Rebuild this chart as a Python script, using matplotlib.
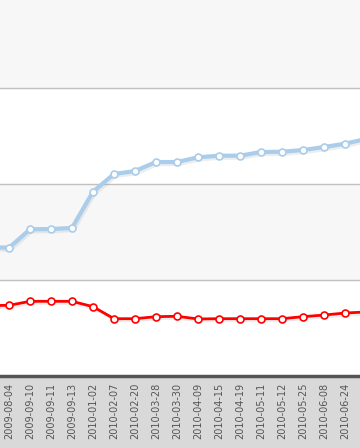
import matplotlib
matplotlib.use('Agg')
import matplotlib.pyplot as plt
import matplotlib.patheffects as pe
import numpy as np

# dates shown under the axis; the first and last points sit just outside the view
dates = ['', '2009-08-04', '2009-09-10', '2009-09-11', '2009-09-13', '2010-01-02',
         '2010-02-07', '2010-02-20', '2010-03-28', '2010-03-30', '2010-04-09',
         '2010-04-15', '2010-04-19', '2010-05-11', '2010-05-12', '2010-05-25',
         '2010-06-08', '2010-06-24', '']

blue_vals = [134.4, 133.6, 152.8, 153.1, 154.2, 192.0, 210.4, 213.5, 222.9, 222.9,
             227.8, 229.5, 229.5, 233.3, 233.6, 235.4, 238.5, 242.0, 246.9]
red_vals = [73.4, 73.6, 77.8, 77.8, 77.8, 72.2, 59.7, 59.7, 61.8, 62.2,
            59.4, 59.7, 59.7, 59.7, 59.7, 61.8, 63.5, 65.6, 66.7]

x = np.arange(len(dates)) - 1

fig = plt.figure(figsize=(3.6, 4.48), dpi=100)
fig.patch.set_facecolor('#d9d9d9')
ax = fig.add_axes([0, 72 / 448, 1, 376 / 448])
ax.set_facecolor('white')

# alternating bands and grid
for lo in (100, 300):
    ax.axhspan(lo, lo + 100, color='#f7f7f7', zorder=0)
for g in (100, 200, 300):
    ax.axhline(g, color='#c0c0c0', lw=1, zorder=1)

shadow = [pe.SimpleLineShadow(offset=(1, -1.5), shadow_color='#888888', alpha=0.15), pe.Normal()]

ax.plot(x, blue_vals, color='#a9cdea', lw=3, zorder=3, path_effects=shadow,
        solid_joinstyle='round')
ax.plot(x, blue_vals, ls='none', marker='o', ms=5, mfc='white', mec='#a9cdea',
        mew=1.2, zorder=4)

ax.plot(x, red_vals, color='#ff0000', lw=2, zorder=3, path_effects=shadow,
        solid_joinstyle='round')
ax.plot(x, red_vals, ls='none', marker='o', ms=5, mfc='white', mec='#ff0000',
        mew=1.2, zorder=4)

ax.set_yticks([])
ax.set_xticks(x)
ax.set_xticklabels(dates, rotation=90, fontsize=7, color='#555555')
ax.tick_params(axis='x', length=0, pad=5)
ax.set_xlim(-9 / 21, 16 + 15 / 21)
ax.set_ylim(0, 376 / 96 * 100)

for side in ('top', 'left', 'right'):
    ax.spines[side].set_visible(False)
ax.spines['bottom'].set_color('#555555')
ax.spines['bottom'].set_linewidth(2.5)

fig.savefig('out.png', dpi=100, facecolor=fig.get_facecolor())
